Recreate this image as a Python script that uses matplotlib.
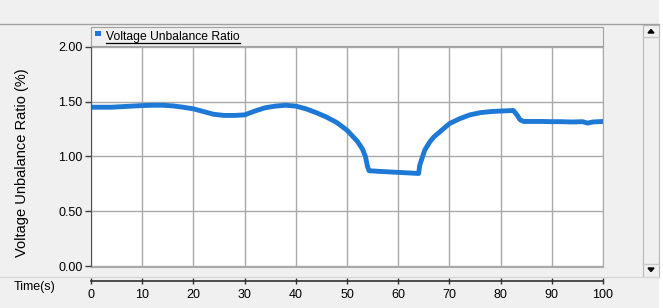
import matplotlib
matplotlib.use("Agg")
import matplotlib.pyplot as plt
from matplotlib.patches import Rectangle, Polygon
from matplotlib.lines import Line2D

plt.rcParams['font.family'] = ['Liberation Sans', 'DejaVu Sans']

# values
time_s = [0, 2, 4, 6, 8, 10, 12, 14, 16, 18, 20, 22, 24, 26, 28, 30, 32, 34, 36, 38,
          40, 42, 44, 46, 48, 50, 51, 52, 53, 53.6, 54, 54.3, 56, 58, 60, 62, 64,
          64.2, 65.2, 66.2, 67, 68, 70, 72, 74, 76, 78, 80, 82.5, 83.2, 83.8, 84.5,
          86, 88, 90, 92, 94, 96, 97, 98, 100]
vur = [1.45, 1.45, 1.45, 1.455, 1.46, 1.465, 1.468, 1.468, 1.462, 1.45, 1.435, 1.41,
       1.385, 1.375, 1.375, 1.38, 1.415, 1.445, 1.46, 1.468, 1.46, 1.435, 1.40, 1.36,
       1.31, 1.24, 1.19, 1.14, 1.07, 1.0, 0.91, 0.87, 0.865, 0.86, 0.855, 0.85, 0.845,
       0.92, 1.06, 1.135, 1.18, 1.22, 1.30, 1.345, 1.38, 1.40, 1.41, 1.415, 1.42, 1.38,
       1.335, 1.32, 1.32, 1.32, 1.318, 1.318, 1.315, 1.318, 1.305, 1.315, 1.32]
yticks = [0.0, 0.5, 1.0, 1.5, 2.0]
xticks = [0, 10, 20, 30, 40, 50, 60, 70, 80, 90, 100]
series_name = "Voltage Unbalance Ratio"

W, H = 663, 308
BG = "#f0f0f0"
GRID = "#a9a9a9"
BLUE = "#1e78d6"

fig = plt.figure(figsize=(W / 100, H / 100), dpi=100, facecolor=BG)

def fx(px):
    return px / W

def fy(py):
    return 1 - py / H

def hline(y, x0, x1, color, lw=1.0):
    fig.add_artist(Line2D([fx(x0), fx(x1)], [fy(y), fy(y)], color=color, lw=lw,
                          transform=fig.transFigure))

# window chrome
hline(23.5, 0, 659, "#a0a0a0")
hline(277, 0, 659, "#d8d8d8")
fig.add_artist(Rectangle((fx(659), 0), 1 - fx(659), 1, transform=fig.transFigure,
                         facecolor="white", edgecolor="none"))

# scrollbar
fig.add_artist(Rectangle((fx(643), fy(277)), fx(659) - fx(643), fy(25) - fy(277),
                         transform=fig.transFigure, facecolor=BG, edgecolor="#b8b8b8", lw=0.8))
hline(37, 643, 659, "#c8c8c8")
hline(264, 643, 659, "#c8c8c8")
fig.add_artist(Polygon([[fx(648), fy(33)], [fx(654), fy(33)], [fx(651), fy(29.5)]],
                       closed=True, transform=fig.transFigure, color="black"))
fig.add_artist(Polygon([[fx(648), fy(268)], [fx(654), fy(268)], [fx(651), fy(271.5)]],
                       closed=True, transform=fig.transFigure, color="black"))

# legend strip above the plot
fig.add_artist(Rectangle((fx(91), fy(45.5)), fx(602.5) - fx(91), fy(27) - fy(45.5),
                         transform=fig.transFigure, facecolor=BG, edgecolor="#a0a0a0", lw=0.8))
fig.add_artist(Rectangle((fx(95), fy(36)), fx(5.5), fy(0) - fy(4.5), transform=fig.transFigure,
                         facecolor=BLUE, edgecolor="none"))
leg = fig.text(fx(106), fy(40), series_name, fontsize=8.7, va="baseline", ha="left",
               color="black")

# main plot
left, right = 91, 603
ax = fig.add_axes([fx(left), fy(267), fx(right) - fx(left), fy(46) - fy(267)])
ax.set_facecolor("white")
ax.plot(time_s, vur, color=BLUE, lw=3.5, solid_joinstyle="round")
ax.set_xlim(0, 100)
ax.set_ylim(-0.009, 2.009)
ax.set_xticks(xticks)
ax.set_yticks(yticks)
ax.set_yticklabels([f"{v:.2f}" for v in yticks], fontsize=9)
ax.tick_params(axis="x", bottom=False, labelbottom=False)
ax.tick_params(axis="y", direction="out", length=4, width=1, color="#404040", pad=2)
ax.grid(True, color=GRID, lw=1.0)
for side in ["top", "right", "bottom"]:
    ax.spines[side].set_color(GRID)
ax.spines["left"].set_color("#505050")
ax.set_ylabel("Voltage Unbalance Ratio (%)", fontsize=10.5)
ax.yaxis.set_label_coords((29 - left) / (right - left), (267 - 163) / 221)

# separate time axis strip at the bottom
tax = fig.add_axes([fx(left), fy(281), fx(right) - fx(left), 0.001])
tax.set_facecolor("none")
tax.set_xlim(0, 100)
tax.set_yticks([])
tax.set_xticks(xticks)
tax.set_xticklabels([str(t) for t in xticks], fontsize=9)
tax.tick_params(axis="x", direction="inout", length=5, width=1, color="#303030", pad=3)
for side in ["top", "left", "right"]:
    tax.spines[side].set_visible(False)
tax.spines["bottom"].set_color("#303030")
tax.spines["bottom"].set_linewidth(1.2)
fig.text(fx(14), fy(287), "Time(s)", fontsize=9, va="center", ha="left")

# underline the legend entry
fig.canvas.draw()
bb = leg.get_window_extent()
fig.add_artist(Line2D([bb.x0 / W, bb.x1 / W], [fy(42.5), fy(42.5)], color="black", lw=0.9,
                      transform=fig.transFigure))

fig.savefig("out.png", dpi=100, facecolor=BG)
